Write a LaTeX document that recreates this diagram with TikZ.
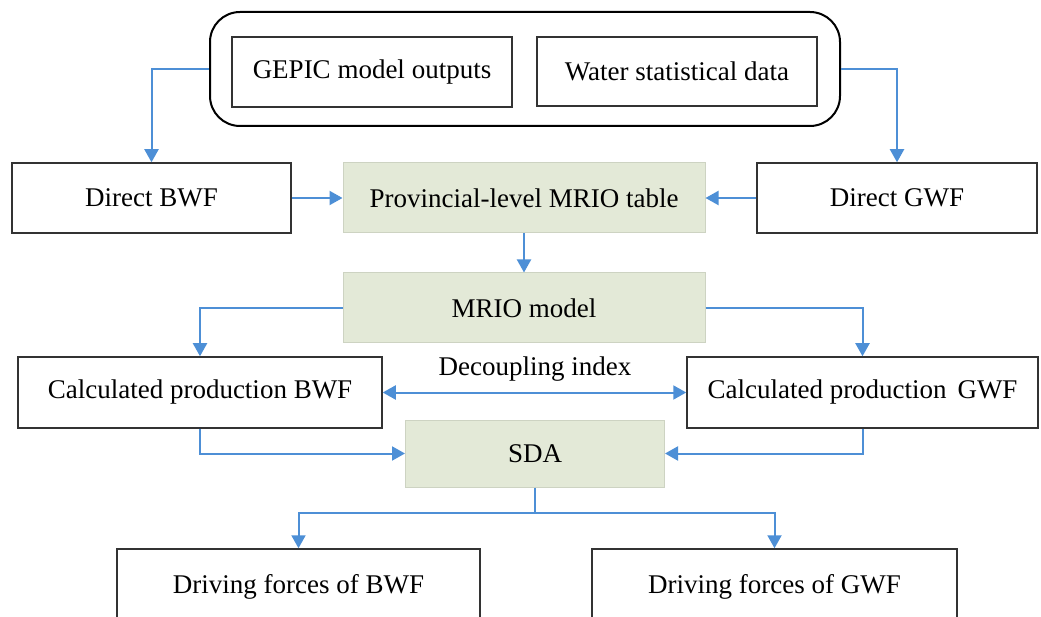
\documentclass[tikz,border=0pt]{standalone}
\usepackage{fontspec}
\setmainfont{Liberation Serif}
\usetikzlibrary{arrows.meta,calc}
\definecolor{arrowblue}{HTML}{4D8FD6}
\definecolor{boxgreen}{HTML}{E3E9D7}
\definecolor{greenedge}{HTML}{CDD3C2}
\definecolor{boxline}{HTML}{333333}
\tikzset{
  whitebox/.style={draw=boxline, line width=1.5pt, fill=white, inner sep=0pt, align=center},
  greenbox/.style={draw=greenedge, line width=1pt, fill=boxgreen, inner sep=0pt, align=center},
  flow/.style={draw=arrowblue, line width=2pt, -{Triangle[width=14pt,length=13pt]}},
  flowboth/.style={draw=arrowblue, line width=2pt, {Triangle[width=14pt,length=13pt]}-{Triangle[width=14pt,length=13pt]}},
}
\begin{document}
\begin{tikzpicture}[x=1pt,y=-1pt,font=\fontsize{27}{32}\selectfont]
\useasboundingbox (0,0) rectangle (1041,617);
\clip (0,0) rectangle (1041,617);
\fill[white] (0,0) rectangle (1041,617);

% top group
\node[draw=black, line width=2pt, rounded corners=30pt, minimum width=630pt, minimum height=114pt, inner sep=0pt] (outer) at (525,69) {};
\node[whitebox, minimum width=280pt, minimum height=70pt] (gepic) at (372,72) {GEPIC model outputs};
\node[whitebox, minimum width=280pt, minimum height=69pt] (water) at (677,71.5) {Water statistical data};

% second row
\node[whitebox, minimum width=279pt, minimum height=70pt] (dbwf) at (151.5,198) {Direct BWF};
\node[greenbox, minimum width=362pt, minimum height=70pt] (prov) at (524,198) {Provincial-level MRIO table};
\node[whitebox, minimum width=280pt, minimum height=70pt] (dgwf) at (897,198) {Direct GWF};

% MRIO model
\node[greenbox, minimum width=362pt, minimum height=70pt] (mrio) at (524,308) {MRIO model};

% calculated
\node[whitebox, minimum width=364pt, minimum height=71pt] (cbwf) at (200,392.5) {Calculated production BWF};
\node[whitebox, minimum width=351pt, minimum height=71pt] (cgwf) at (862.5,392.5) {Calculated production\hspace{0.15em} GWF};
\node (dec) at (535,369) {Decoupling index};

% SDA
\node[greenbox, minimum width=259pt, minimum height=67pt] (sda) at (535,453.5) {SDA};

% driving forces
\node[whitebox, minimum width=363pt, minimum height=90pt] (dbf) at (298.5,594) {};
\node[anchor=center] (dbft) at (298.5,587) {Driving forces of BWF};
\node[whitebox, minimum width=365pt, minimum height=90pt] (dgf) at (774.5,594) {};
\node[anchor=center] (dgft) at (774.5,587) {Driving forces of GWF};

% connectors
\draw[flow] (outer.west) -| (dbwf.north);
\draw[flow] (outer.east) -| (dgwf.north);
\draw[flow] (dbwf.east) -- (prov.west);
\draw[flow] (dgwf.west) -- (prov.east);
\draw[flow] (prov.south) -- (mrio.north);
\draw[flow] (mrio.west) -| (cbwf.north);
\draw[flow] (mrio.east) -| (cgwf.north);
\draw[flowboth] (cbwf.east) -- (cgwf.west);
\draw[flow] (cbwf.south) |- (sda.west);
\draw[flow] (cgwf.south) |- (sda.east);
\coordinate (split) at ($(sda.south)+(0,25)$);
\draw[draw=arrowblue, line width=2pt] (sda.south) -- (split);
\draw[flow] (split) -| (dbf.north);
\draw[flow] (split) -| (dgf.north);
\end{tikzpicture}
\end{document}
